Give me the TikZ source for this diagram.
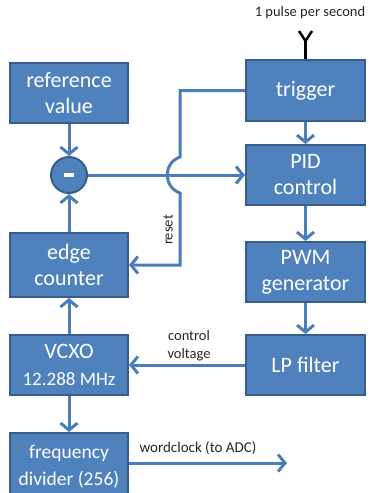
\documentclass[tikz,border=0pt]{standalone}
\usepackage{fontspec}
\setmainfont{Carlito}
\usetikzlibrary{arrows.meta}
\definecolor{boxfill}{HTML}{4F81BD}
\definecolor{boxedge}{HTML}{385D8A}
\definecolor{wirec}{HTML}{4A7EBB}
\begin{document}
\begin{tikzpicture}[x=1pt,y=-1pt,
  blk/.style={draw=boxedge, line width=2pt, fill=boxfill, text=white,
    minimum width=118pt, minimum height=60pt, inner sep=0pt, align=center,
    font=\fontsize{22}{26}\selectfont},
  rblk/.style={blk, minimum width=119pt},
  wire/.style={draw=wirec, line width=3pt},
  arr/.style={wire, -{Straight Barb[length=7pt,width=17pt,line width=3pt]}},
  lbl/.style={text=black!85, font=\fontsize{14.5}{18}\selectfont, inner sep=0pt, align=center}]
\useasboundingbox (0,0) rectangle (373,493);
% left column
\node[blk] (ref) at (69,93) {reference\\value};
\node[circle, draw=boxedge, line width=2pt, fill=boxfill, minimum size=36pt, inner sep=0pt, text=white] (sum) at (69,175) {\rule{10pt}{3.5pt}};
\node[blk, minimum height=64pt] (edge) at (69,265) {edge\\counter};
\node[blk] (vcxo) at (69,365) {VCXO\\[1pt]\fontsize{19}{22}\selectfont 12.288 MHz};
\node[blk, minimum height=67pt, font=\fontsize{19.5}{27}\selectfont] (freq) at (69,466.5) {frequency\\divider (256)};
% right column
\node[rblk, minimum height=61pt] (trig) at (305.5,90.5) {trigger};
\node[rblk] (pid) at (305.5,175) {PID\\control};
\node[rblk] (pwm) at (305.5,272) {PWM\\generator};
\node[rblk] (lp) at (305.5,365) {LP filter};
% antenna
\coordinate (ant) at (305.5,41);
\draw[black, line width=2.5pt] (trig.north) -- (ant);
\draw[black, line width=2.5pt, line join=round] (299,31) -- (ant) -- (312,31);
\node[lbl] (pps) at (310,13) {1 pulse per second};
% connectors
\draw[arr] (ref) -- (sum);
\draw[arr] (edge) -- (sum);
\draw[arr] (sum) -- (pid);
\draw[arr] (trig) -- (pid);
\draw[arr] (pid) -- (pwm);
\draw[arr] (pwm) -- (lp);
\draw[arr] (lp) -- (vcxo);
\draw[arr] (vcxo) -- (edge);
\draw[arr] (vcxo) -- (freq);
\coordinate (hopT) at (180,157);
\coordinate (hopB) at (180,193);
\draw[arr] (trig.west) -| (hopT) .. controls (163,163) and (163,187) .. (hopB) |- (edge.east);
\node[lbl, rotate=90] (rst) at (168,230) {reset};
\node[lbl] (cv) at (189,346) {control\\voltage};
\coordinate (wc) at (287,463);
\draw[arr] (freq.east |- wc) -- (wc);
\node[lbl, font=\fontsize{15}{18}\selectfont] (wcl) at (198,448) {wordclock (to ADC)};
\end{tikzpicture}
\end{document}
